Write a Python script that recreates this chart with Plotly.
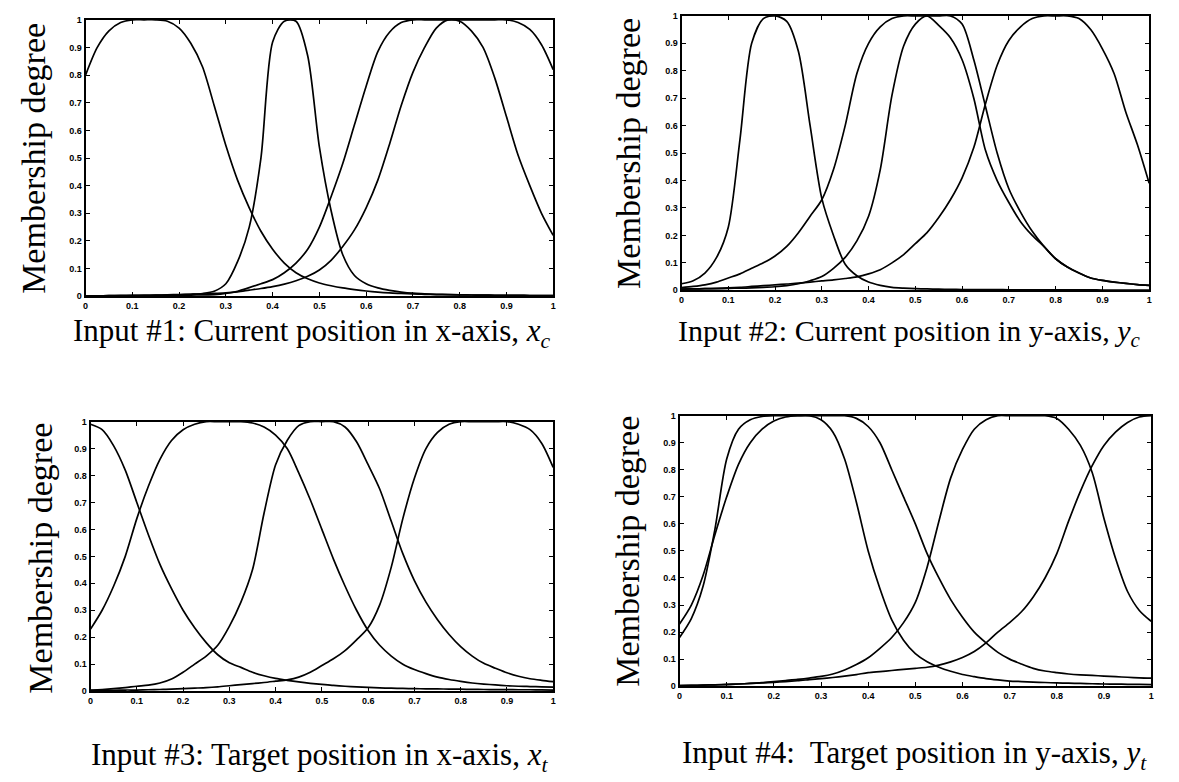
import plotly.graph_objects as go

W, H = 1179, 782

# common abscissa grid (membership function sample points)
X = [0.0, 0.025, 0.05, 0.075, 0.1, 0.125, 0.15, 0.175, 0.2, 0.225, 0.25, 0.275,
     0.3, 0.325, 0.35, 0.375, 0.4, 0.425, 0.45, 0.475, 0.5, 0.525, 0.55, 0.575,
     0.6, 0.625, 0.65, 0.675, 0.7, 0.725, 0.75, 0.775, 0.8, 0.825, 0.85, 0.875,
     0.9, 0.925, 0.95, 0.975, 1.0]

# ---- Input #1 : current position x ----
in1_a = [0.80, 0.90, 0.96, 0.99, 1.0, 1.0, 1.0, 0.995, 0.97, 0.915, 0.83, 0.69, 0.545, 0.42, 0.32,
         0.235, 0.17, 0.12, 0.085, 0.063, 0.048, 0.038, 0.030, 0.024, 0.019, 0.015, 0.012, 0.010,
         0.008, 0.007, 0.006, 0.0055, 0.005, 0.0045, 0.004, 0.0035, 0.003, 0.003, 0.0025, 0.0025, 0.002]
in1_b = [0.001, 0.001, 0.002, 0.002, 0.002, 0.003, 0.003, 0.004, 0.005, 0.007, 0.010, 0.018, 0.045,
         0.125, 0.25, 0.50, 0.92, 0.995, 0.995, 0.87, 0.54, 0.31, 0.15, 0.075, 0.045, 0.030, 0.021,
         0.015, 0.011, 0.009, 0.007, 0.006, 0.005, 0.0045, 0.004, 0.0035, 0.003, 0.003, 0.0025, 0.0025, 0.002]
in1_c = [0.001, 0.001, 0.001, 0.002, 0.002, 0.002, 0.003, 0.003, 0.004, 0.004, 0.005, 0.006, 0.010,
         0.018, 0.031, 0.045, 0.060, 0.085, 0.12, 0.17, 0.25, 0.36, 0.48, 0.62, 0.76, 0.885, 0.955,
         0.99, 1.0, 1.0, 1.0, 1.0, 1.0, 1.0, 1.0, 1.0, 1.0, 0.99, 0.965, 0.91, 0.82]
in1_d = [0.001, 0.001, 0.002, 0.002, 0.003, 0.003, 0.004, 0.005, 0.006, 0.007, 0.008, 0.010, 0.012,
         0.016, 0.022, 0.028, 0.035, 0.044, 0.056, 0.072, 0.095, 0.13, 0.18, 0.24, 0.32, 0.42, 0.55,
         0.69, 0.81, 0.90, 0.97, 1.0, 0.995, 0.96, 0.90, 0.79, 0.65, 0.51, 0.40, 0.30, 0.22]

# ---- Input #2 : current position y ----
in2_a = [0.024, 0.035, 0.063, 0.12, 0.23, 0.55, 0.90, 0.99, 1.0, 0.98, 0.87, 0.60, 0.335, 0.20, 0.095,
         0.053, 0.030, 0.018, 0.011, 0.008, 0.006, 0.005, 0.004, 0.0035, 0.003, 0.003, 0.0025, 0.0025,
         0.002, 0.002, 0.002, 0.002, 0.0015, 0.0015, 0.0015, 0.0015, 0.001, 0.001, 0.001, 0.001, 0.001]
in2_b = [0.010, 0.014, 0.020, 0.030, 0.045, 0.060, 0.080, 0.10, 0.125, 0.16, 0.21, 0.27, 0.33, 0.44,
         0.60, 0.79, 0.90, 0.96, 0.99, 1.0, 1.0, 1.0, 1.0, 1.0, 0.97, 0.84, 0.67, 0.50, 0.37, 0.285,
         0.215, 0.16, 0.115, 0.085, 0.063, 0.045, 0.036, 0.030, 0.025, 0.021, 0.018]
in2_c = [0.004, 0.005, 0.006, 0.006, 0.007, 0.008, 0.009, 0.011, 0.013, 0.017, 0.024, 0.035, 0.050,
         0.080, 0.12, 0.18, 0.27, 0.44, 0.71, 0.89, 0.97, 1.0, 0.965, 0.92, 0.84, 0.70, 0.51, 0.40,
         0.32, 0.25, 0.20, 0.16, 0.115, 0.085, 0.063, 0.045, 0.036, 0.030, 0.025, 0.021, 0.018]
in2_d = [0.004, 0.005, 0.006, 0.007, 0.009, 0.011, 0.014, 0.017, 0.020, 0.023, 0.026, 0.030, 0.034,
         0.038, 0.043, 0.049, 0.060, 0.075, 0.10, 0.13, 0.17, 0.21, 0.265, 0.33, 0.41, 0.52, 0.68,
         0.82, 0.91, 0.96, 0.99, 1.0, 1.0, 1.0, 0.99, 0.95, 0.88, 0.79, 0.65, 0.53, 0.39]

# ---- Input #3 : target position x ----
in3_a = [0.99, 0.97, 0.91, 0.82, 0.70, 0.58, 0.47, 0.38, 0.30, 0.235, 0.18, 0.135, 0.105, 0.088, 0.070,
         0.057, 0.047, 0.040, 0.034, 0.029, 0.025, 0.021, 0.018, 0.016, 0.014, 0.012, 0.011, 0.010,
         0.009, 0.0085, 0.008, 0.0075, 0.007, 0.0065, 0.006, 0.0058, 0.0055, 0.005, 0.005, 0.0045, 0.004]
in3_b = [0.23, 0.30, 0.39, 0.50, 0.64, 0.76, 0.86, 0.93, 0.97, 0.99, 1.0, 1.0, 1.0, 1.0, 0.995, 0.98,
         0.95, 0.90, 0.81, 0.71, 0.60, 0.49, 0.39, 0.30, 0.225, 0.17, 0.13, 0.10, 0.080, 0.065, 0.052,
         0.043, 0.036, 0.030, 0.026, 0.023, 0.020, 0.018, 0.017, 0.016, 0.015]
in3_c = [0.004, 0.006, 0.009, 0.013, 0.018, 0.022, 0.030, 0.045, 0.070, 0.10, 0.13, 0.17, 0.24, 0.33,
         0.45, 0.66, 0.84, 0.93, 0.985, 1.0, 1.0, 1.0, 0.98, 0.925, 0.84, 0.75, 0.63, 0.51, 0.41, 0.33,
         0.265, 0.21, 0.165, 0.13, 0.103, 0.085, 0.068, 0.055, 0.046, 0.040, 0.035]
in3_d = [0.002, 0.003, 0.003, 0.004, 0.004, 0.005, 0.006, 0.007, 0.009, 0.011, 0.013, 0.016, 0.020,
         0.024, 0.028, 0.032, 0.037, 0.042, 0.052, 0.070, 0.095, 0.12, 0.15, 0.19, 0.235, 0.32, 0.46,
         0.64, 0.79, 0.90, 0.96, 0.99, 1.0, 1.0, 1.0, 1.0, 1.0, 0.99, 0.97, 0.92, 0.83]

# ---- Input #4 : target position y ----
in4_a = [0.18, 0.25, 0.37, 0.58, 0.84, 0.95, 0.985, 0.997, 1.0, 1.0, 1.0, 1.0, 0.985, 0.94, 0.84, 0.68,
         0.50, 0.36, 0.245, 0.17, 0.12, 0.09, 0.070, 0.055, 0.043, 0.035, 0.028, 0.023, 0.019, 0.017,
         0.015, 0.0135, 0.012, 0.011, 0.010, 0.009, 0.008, 0.0075, 0.007, 0.0065, 0.006]
in4_b = [0.23, 0.30, 0.41, 0.56, 0.70, 0.82, 0.90, 0.95, 0.98, 0.995, 1.0, 1.0, 1.0, 1.0, 1.0, 0.99,
         0.96, 0.90, 0.80, 0.70, 0.60, 0.49, 0.40, 0.32, 0.255, 0.20, 0.16, 0.125, 0.10, 0.082, 0.066,
         0.056, 0.050, 0.045, 0.042, 0.040, 0.037, 0.035, 0.033, 0.031, 0.030]
in4_c = [0.002, 0.003, 0.004, 0.005, 0.006, 0.008, 0.010, 0.013, 0.017, 0.021, 0.025, 0.030, 0.036,
         0.045, 0.060, 0.080, 0.105, 0.14, 0.18, 0.235, 0.31, 0.44, 0.61, 0.77, 0.875, 0.95, 0.985,
         1.0, 1.0, 1.0, 1.0, 1.0, 0.99, 0.95, 0.89, 0.79, 0.62, 0.47, 0.35, 0.28, 0.24]
in4_d = [0.002, 0.003, 0.004, 0.005, 0.007, 0.008, 0.010, 0.012, 0.014, 0.017, 0.020, 0.024, 0.028,
         0.032, 0.037, 0.043, 0.050, 0.054, 0.058, 0.062, 0.066, 0.070, 0.078, 0.090, 0.106, 0.128,
         0.16, 0.20, 0.235, 0.275, 0.33, 0.40, 0.49, 0.61, 0.72, 0.815, 0.89, 0.94, 0.975, 0.995, 1.0]

tick_vals = [0, 0.1, 0.2, 0.3, 0.4, 0.5, 0.6, 0.7, 0.8, 0.9, 1]
tick_text = ["0", "0.1", "0.2", "0.3", "0.4", "0.5", "0.6", "0.7", "0.8", "0.9", "1"]

y_title = "Membership degree"
titles = [
    "Input #1: Current position in x-axis, <i>x<sub>c</sub></i>",
    "Input #2: Current position in y-axis, <i>y<sub>c</sub></i>",
    "Input #3: Target position in x-axis, <i>x<sub>t</sub></i>",
    "Input #4:  Target position in y-axis, <i>y<sub>t</sub></i>",
]
title_sizes = [31, 30, 31, 31]
panels = [
    [in1_a, in1_b, in1_c, in1_d],
    [in2_a, in2_b, in2_c, in2_d],
    [in3_a, in3_b, in3_c, in3_d],
    [in4_a, in4_b, in4_c, in4_d],
]

# layout in pixels: (left, right, top, bottom) of each plot frame
frames = [(83, 553, 15, 295), (682, 1152, 11, 289), (88, 553, 422, 695), (680, 1154, 416, 690)]
title_pos = [(311, 332), (911, 332), (318, 762), (916, 760)]
ylab_pos = [(30, 155), (628, 150), (38, 560), (628, 553)]

fig = go.Figure()
serif = "Liberation Serif, Times New Roman, serif"
sans = "Liberation Sans, Arial, sans-serif"

for i, curves in enumerate(panels):
    n = "" if i == 0 else str(i + 1)
    for ys in curves:
        fig.add_trace(go.Scatter(x=X, y=ys, mode="lines", xaxis="x" + n, yaxis="y" + n,
                                 line=dict(color="black", width=1.7, shape="spline", smoothing=0.8),
                                 showlegend=False, hoverinfo="skip"))
    l, r, t, b = frames[i]
    common = dict(range=[0, 1], showgrid=False, zeroline=False,
                  showline=True, linecolor="black", linewidth=2, mirror="allticks",
                  ticks="inside", ticklen=4, tickwidth=1.3, tickcolor="black",
                  tickvals=tick_vals, ticktext=tick_text,
                  tickfont=dict(family=sans, size=9, color="black", weight="bold"),
                  fixedrange=True)
    ax = dict(domain=[l / W, r / W], anchor="y" + n, **common)
    ay = dict(domain=[1 - b / H, 1 - t / H], anchor="x" + n, **common)
    fig.update_layout(**{"xaxis" + n: ax, "yaxis" + n: ay})

annotations = []
for i in range(4):
    tx, ty = title_pos[i]
    annotations.append(dict(text=titles[i], x=tx / W, y=1 - ty / H, xref="paper", yref="paper",
                            xanchor="center", yanchor="middle", showarrow=False,
                            font=dict(family=serif, size=title_sizes[i], color="black")))
    lx, lyy = ylab_pos[i]
    annotations.append(dict(text=y_title, x=lx / W, y=1 - lyy / H, xref="paper", yref="paper",
                            xanchor="center", yanchor="middle", showarrow=False, textangle=-90,
                            font=dict(family=serif, size=34, color="black")))

fig.update_layout(width=W, height=H, margin=dict(l=0, r=0, t=0, b=0),
                  paper_bgcolor="white", plot_bgcolor="white",
                  annotations=annotations, showlegend=False)

fig.write_html("out.html", config={"displayModeBar": False})
